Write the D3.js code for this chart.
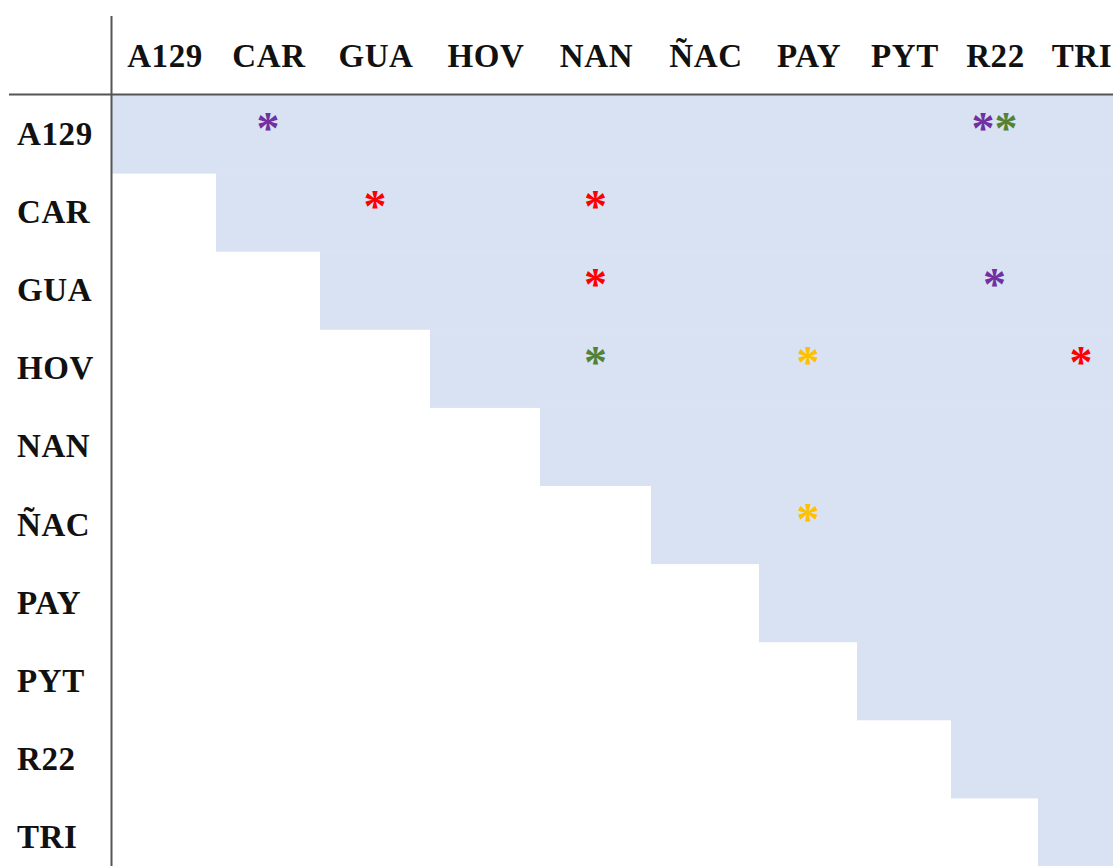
<!DOCTYPE html>
<html>
<head>
<meta charset="utf-8">
<script src="https://cdn.jsdelivr.net/npm/d3@7"></script>
<style>
  html, body { margin: 0; padding: 0; background: #fff; overflow: hidden; }
  svg { display: block; }
</style>
</head>
<body>
<script>
// ---- data ----
const categories = ["A129", "CAR", "GUA", "HOV", "NAN", "ÑAC", "PAY", "PYT", "R22", "TRI"];
const markRows   = ["A129", "A129", "A129", "CAR", "CAR", "GUA", "GUA", "HOV", "HOV", "HOV", "ÑAC"];
const markCols   = ["CAR",  "R22",  "R22",  "GUA", "NAN", "NAN", "R22", "NAN", "PAY", "TRI", "PAY"];
const markGroup  = ["purple","purple","green","red","red","red","purple","green","yellow","red","yellow"];

// ---- layout ----
const W = 1113, H = 866;
const colWidths = [104, 104, 110, 110, 111, 108, 98, 94, 87, 86];
const tableLeft = 112, headerBottom = 95, rowH = 78.1;
const groupColor = { purple: "#7030a0", green: "#548235", red: "#ff0000", yellow: "#ffc000" };

const edges = [tableLeft];
colWidths.forEach(w => edges.push(edges[edges.length - 1] + w));
const x = d3.scaleOrdinal().domain(categories).range(edges.slice(0, -1));
const xw = d3.scaleOrdinal().domain(categories).range(colWidths);
const y = d3.scaleBand().domain(categories)
  .range([headerBottom, headerBottom + rowH * categories.length]).padding(0);

const svg = d3.select("body").append("svg").attr("width", W).attr("height", H);

// shaded upper triangle (including diagonal)
svg.append("g").selectAll("rect").data(categories).join("rect")
  .attr("x", d => x(d))
  .attr("y", d => y(d))
  .attr("width", d => W - x(d))
  .attr("height", y.bandwidth() + 0.5)
  .attr("fill", "#d9e2f3");

const font = "'Liberation Serif', 'Times New Roman', serif";

// column headers
svg.append("g").selectAll("text").data(categories).join("text")
  .attr("x", d => x(d) + xw(d) / 2 + 1)
  .attr("y", 56)
  .attr("text-anchor", "middle")
  .attr("dominant-baseline", "central")
  .attr("font-family", font).attr("font-weight", "bold").attr("font-size", 33)
  .attr("letter-spacing", 0.6)
  .attr("fill", "#111")
  .text(d => d);

// row headers
svg.append("g").selectAll("text").data(categories).join("text")
  .attr("x", 17)
  .attr("y", d => y(d) + y.bandwidth() / 2)
  .attr("text-anchor", "start")
  .attr("dominant-baseline", "central")
  .attr("font-family", font).attr("font-weight", "bold").attr("font-size", 33)
  .attr("letter-spacing", 0.6)
  .attr("fill", "#111")
  .text(d => d);

// marks
const marks = markRows.map((r, i) => ({ row: r, col: markCols[i], group: markGroup[i] }));
// offset when several marks share a cell
const cellCount = d3.rollup(marks, v => v.length, d => d.row + "|" + d.col);
const cellIdx = new Map();
marks.forEach(m => {
  const k = m.row + "|" + m.col;
  const n = cellCount.get(k);
  const i = cellIdx.get(k) || 0;
  cellIdx.set(k, i + 1);
  m.dx = (i - (n - 1) / 2) * 23;
});

svg.append("g").selectAll("text").data(marks).join("text")
  .attr("x", d => x(d.col) + xw(d.col) / 2 + d.dx)
  .attr("y", d => y(d.row) + y.bandwidth() / 2 + 10)
  .attr("text-anchor", "middle")
  .attr("font-family", font).attr("font-weight", "bold").attr("font-size", 46)
  .attr("fill", d => groupColor[d.group])
  .text("*");

// rules
svg.append("line")
  .attr("x1", 9).attr("x2", W).attr("y1", headerBottom - 0.5).attr("y2", headerBottom - 0.5)
  .attr("stroke", "#555").attr("stroke-width", 2);
svg.append("line")
  .attr("x1", tableLeft - 0.5).attr("x2", tableLeft - 0.5).attr("y1", 16).attr("y2", H)
  .attr("stroke", "#555").attr("stroke-width", 2);
</script>
</body>
</html>
